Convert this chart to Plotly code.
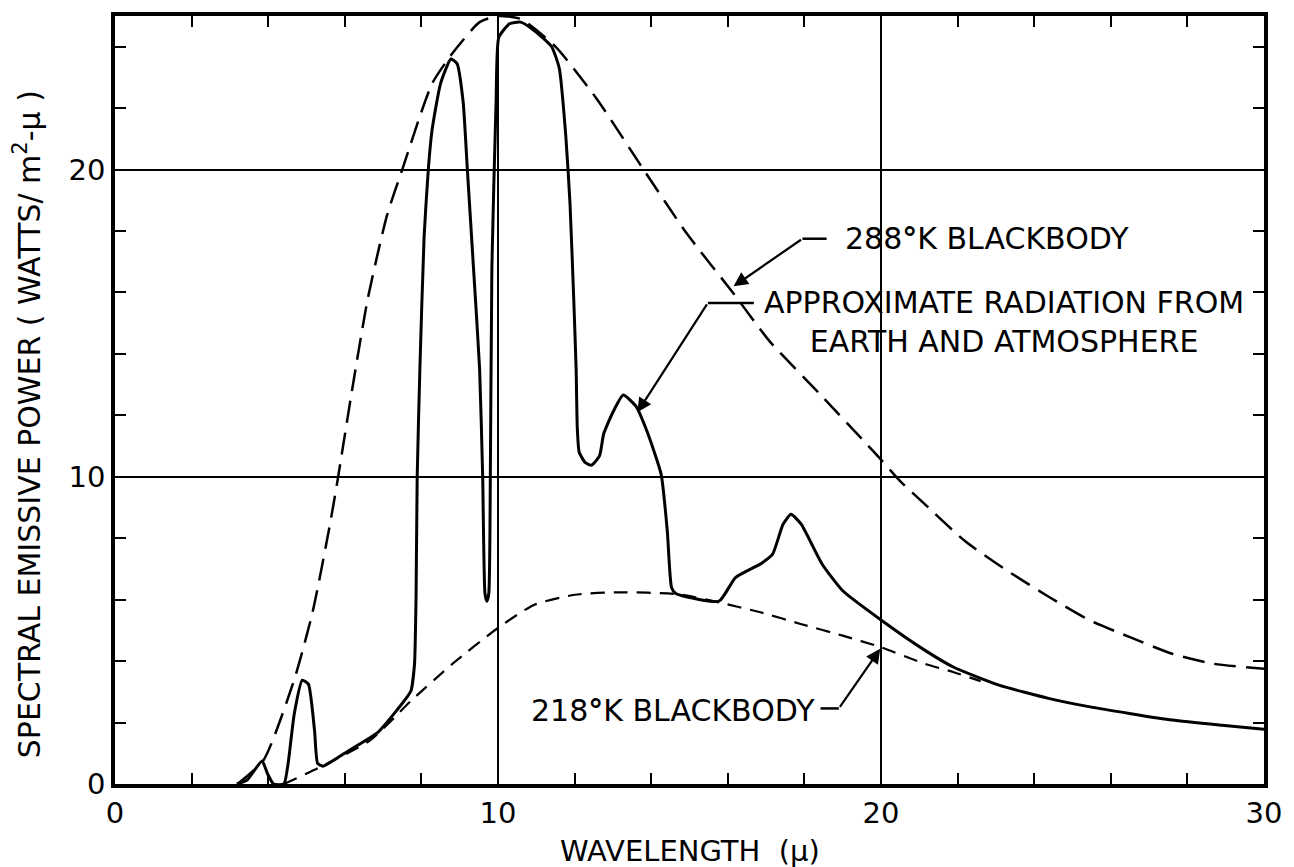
import plotly.graph_objects as go

# 288 K blackbody curve (wavelength in microns, W / m^2-micron)
bb288_wl = [3.2, 3.88, 4.68, 5.16, 5.59, 5.8, 6.2, 6.6, 7.1, 7.5, 8.28, 8.82, 9.52,
            10.0, 10.6, 11.5, 12.58, 13.8, 14.94, 16.13, 17.1, 18.4, 19.6, 20.0,
            20.5, 21.15, 22.2, 23.3, 24.4, 25.46, 26.5, 27.6, 28.7, 30.0]
bb288_pw = [0.0, 0.78, 3.4, 5.6, 8.3, 9.8, 12.9, 15.8, 18.5, 20.0, 22.8, 23.8, 24.8,
            25.0, 24.9, 24.0, 22.3, 20.0, 17.9, 16.0, 14.4, 12.7, 11.1, 10.56,
            9.86, 9.1, 7.9, 6.94, 6.08, 5.32, 4.78, 4.24, 3.91, 3.75]

# 218 K blackbody curve
bb218_wl = [4.41, 5.37, 6.66, 7.73, 8.8, 10.0, 10.94, 12.0, 13.1, 14.7, 15.77,
            16.85, 17.9, 19.0, 20.0, 21.15, 21.9, 22.6]
bb218_pw = [0.0, 0.56, 1.42, 2.71, 3.9, 5.08, 5.83, 6.16, 6.24, 6.18, 5.91,
            5.59, 5.21, 4.83, 4.45, 3.91, 3.64, 3.35]

# Approximate radiation from earth and atmosphere
earth_wl = [3.18, 3.45, 3.84, 3.98, 4.14, 4.41, 4.52, 4.68, 4.89, 5.05, 5.21, 5.29,
            5.43, 6.12, 6.87, 7.62, 7.73, 7.82, 7.86, 7.89, 7.96, 8.07, 8.18, 8.28,
            8.5, 8.77, 8.93, 9.09, 9.2, 9.36, 9.52, 9.6, 9.66, 9.71, 9.76, 9.79,
            9.84, 9.95, 10.02, 10.3, 10.59, 10.97, 11.4, 11.6, 11.77, 11.88, 11.98,
            12.04, 12.07, 12.12, 12.28, 12.44, 12.65, 12.76, 13.0, 13.27, 13.6,
            13.89, 14.26, 14.42, 14.53, 14.64, 15.77, 16.2, 16.85, 17.17, 17.44,
            17.65, 17.92, 18.46, 19.0, 20.0, 21.15, 21.9, 23.1, 24.4, 25.46, 27.6,
            28.9, 30.0]
earth_pw = [0.0, 0.13, 0.75, 0.34, 0.0, 0.0, 0.67, 2.28, 3.38, 3.25, 1.74, 0.67,
            0.58, 1.1, 1.69, 2.82, 3.04, 3.9, 6.05, 10.0, 13.5, 17.8, 20.0, 21.3,
            22.8, 23.6, 23.45, 22.2, 20.0, 16.8, 13.5, 10.0, 6.2, 5.95, 6.2, 8.2,
            16.8, 22.2, 24.3, 24.75, 24.8, 24.5, 24.0, 23.3, 21.1, 18.9, 15.7,
            13.5, 11.6, 10.8, 10.46, 10.38, 10.68, 11.4, 12.1, 12.66, 12.3,
            11.48, 10.08, 8.24, 6.4, 6.2, 5.95, 6.72, 7.16, 7.48, 8.45,
            8.78, 8.45, 7.16, 6.29, 5.34, 4.35, 3.8, 3.21, 2.78, 2.51, 2.08,
            1.91, 1.78]

x_major = [0, 10, 20, 30]
y_major = [0, 10, 20]

FONT = "DejaVu Sans"
INK = "black"

fig = go.Figure()

fig.add_trace(go.Scatter(x=bb288_wl, y=bb288_pw, mode="lines",
                         line=dict(color=INK, width=2.5, dash="22px,10px",
                                   shape="spline", smoothing=0.6),
                         hoverinfo="skip", showlegend=False))
fig.add_trace(go.Scatter(x=bb218_wl, y=bb218_pw, mode="lines",
                         line=dict(color=INK, width=2.2, dash="14px,9px",
                                   shape="spline", smoothing=0.6),
                         hoverinfo="skip", showlegend=False))
fig.add_trace(go.Scatter(x=earth_wl, y=earth_pw, mode="lines",
                         line=dict(color=INK, width=3, shape="spline", smoothing=0.5),
                         hoverinfo="skip", showlegend=False))

axis_common = dict(
    showline=True, linecolor=INK, linewidth=3.5, mirror="ticks",
    ticks="inside", ticklen=11, tickwidth=2, tickcolor=INK,
    showgrid=True, gridcolor=INK, gridwidth=1.5,
    zeroline=False,
    tickfont=dict(family=FONT, size=29, color=INK),
    minor=dict(ticks="inside", ticklen=11, tickwidth=2, tickcolor=INK,
               dtick=2, showgrid=False),
)

fig.update_xaxes(range=[0, 30], tickvals=x_major, **axis_common)
fig.update_yaxes(range=[0, 25], tickvals=y_major, **axis_common)

label_font = dict(family=FONT, size=30, color=INK)
title_font = dict(family=FONT, size=29, color=INK)
deg = "<b>°</b>"

annotations = [
    dict(text="WAVELENGTH  (μ)", xref="x", yref="paper", x=15, y=-0.087,
         showarrow=False, font=title_font, xanchor="center", yanchor="middle"),
    dict(text="SPECTRAL EMISSIVE POWER ( WATTS/ m<sup>2</sup>-μ )",
         xref="paper", yref="y", x=-0.076, y=11.7, textangle=-90,
         showarrow=False, font=dict(family=FONT, size=30, color=INK),
         xanchor="center", yanchor="middle"),
    # curve labels
    dict(text=f"288{deg}K BLACKBODY", xref="x", yref="y", x=19.0, y=17.77,
         showarrow=False, font=label_font, xanchor="left", yanchor="middle"),
    dict(text="APPROXIMATE RADIATION FROM<br>EARTH AND ATMOSPHERE", xref="x",
         yref="y", x=23.2, y=15.05, showarrow=False, font=label_font,
         xanchor="center", yanchor="middle", align="center"),
    dict(text=f"218{deg}K BLACKBODY", xref="x", yref="y", x=18.34, y=2.39,
         showarrow=False, font=label_font, xanchor="right", yanchor="middle"),
]

# leader lines: horizontal stub from the label, then an arrow onto the curve
leaders = [
    # (stub start x, stub end x, y, arrow tip x, arrow tip y)
    (18.58, 17.95, 17.75, 16.15, 16.2),
    (16.68, 15.48, 15.66, 13.64, 12.1),
    (18.42, 18.9, 2.46, 19.98, 4.4),
]
shapes = []
for x0, x1, yl, tx, ty in leaders:
    shapes.append(dict(type="line", xref="x", yref="y", x0=x0, x1=x1, y0=yl, y1=yl,
                       line=dict(color=INK, width=2.5)))
    annotations.append(dict(text="", xref="x", yref="y", x=tx, y=ty,
                            axref="x", ayref="y", ax=x1, ay=yl, showarrow=True,
                            arrowhead=2, arrowsize=1.3, arrowwidth=2.2,
                            arrowcolor=INK, standoff=0))

fig.update_layout(
    width=1294, height=867,
    margin=dict(l=115, r=22, t=12, b=83),
    paper_bgcolor="white", plot_bgcolor="white",
    annotations=annotations, shapes=shapes,
    font=dict(family=FONT, color=INK),
)

fig.write_html("out.html")
